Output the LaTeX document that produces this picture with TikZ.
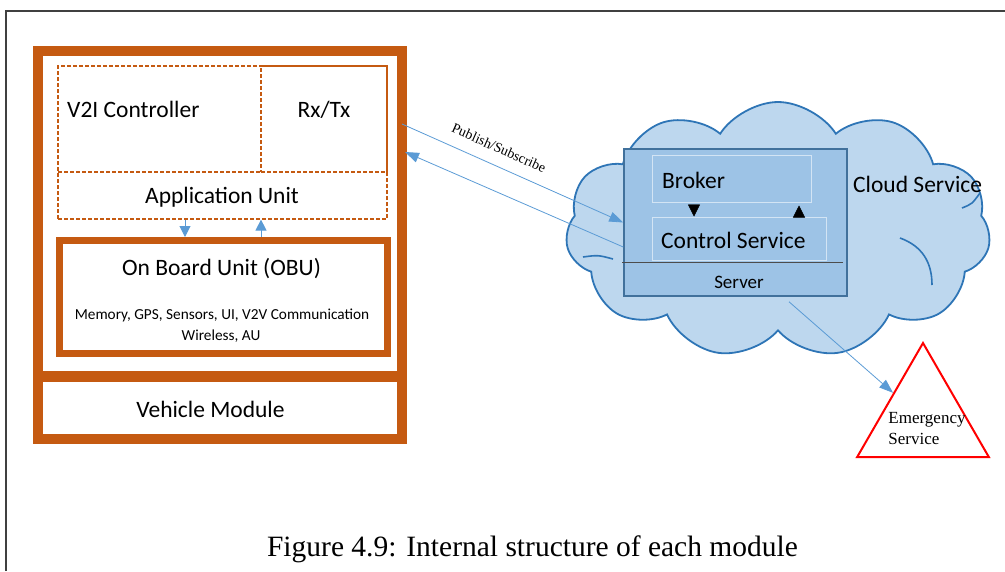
\documentclass[tikz,border=0pt]{standalone}
\usepackage{fontspec}
\setmainfont{Carlito}
\newfontfamily\timesfont{Liberation Serif}
\usetikzlibrary{shapes.symbols,shapes.geometric,arrows.meta}

\definecolor{rust}{HTML}{C55A11}
\definecolor{linkblue}{HTML}{5B9BD5}
\definecolor{cloudfill}{HTML}{BDD7EE}
\definecolor{cloudedge}{HTML}{2E75B6}
\definecolor{serverfill}{HTML}{9DC3E6}
\definecolor{serveredge}{HTML}{41719C}

\tikzset{
  bigtxt/.style={inner sep=0pt, font=\fontsize{23.5}{27}\selectfont},
  midtxt/.style={inner sep=0pt, font=\fontsize{19}{22}\selectfont},
  smalltxt/.style={inner sep=0pt, font=\fontsize{15.3}{17}\selectfont},
  serif/.style={inner sep=0pt, font=\timesfont\fontsize{17}{21}\selectfont},
  unitbox/.style={draw=rust, line width=#1},
  dashbox/.style={draw=rust, line width=1.2pt, dash pattern=on 4pt off 2pt},
  innerbox/.style={draw=white!55!serverfill, line width=1pt},
  puffline/.style={cloudedge, line width=1.6pt},
  flow/.style={linkblue, line width=1pt, -{Triangle[length=11pt,width=11pt]}},
  thinflow/.style={linkblue, line width=0.8pt, -{Triangle[length=14pt,width=10pt]}},
  tip/.style={black, line width=0.4pt, -{Triangle[length=12pt,width=12pt]}},
}

\begin{document}
\begin{tikzpicture}[x=1pt,y=-1pt]
\useasboundingbox (0,0) rectangle (1005,571);
\draw[line width=2pt, black!75] (6,571) -- (6,11) -- (1005,11);

% vehicle side
\node[unitbox=10pt, minimum width=364pt, minimum height=388pt] (vehicle) at (220,245) {};
\draw[rust, line width=11pt] (vehicle.west |- 0,376.5) -- (vehicle.east |- 0,376.5);
\node[dashbox, minimum width=329pt, minimum height=153pt] (appunit) at (222.5,142.5) {};
\draw[dashbox] (58,172) -- (261,172);
\node[dashbox, minimum width=126pt, minimum height=106pt] (rxtx) at (324,119) {};
\node[unitbox=7pt, minimum width=327.5pt, minimum height=113pt] (obu) at (223.25,297) {};

\node[bigtxt, anchor=base west] (v2itxt) at (67,117) {V2I Controller};
\node[bigtxt, anchor=base] (rxtxtxt) at (324,117) {Rx/Tx};
\node[bigtxt, anchor=base] (apptxt) at (222,203) {Application Unit};
\node[bigtxt, anchor=base] (obutxt) at (221.5,275) {On Board Unit (OBU)};
\node[smalltxt, anchor=base] (obudetail) at (222,319) {Memory, GPS, Sensors, UI, V2V Communication};
\node[smalltxt, anchor=base] (obuwire) at (221,340) {Wireless, AU};
\node[bigtxt, anchor=base] (vehicletxt) at (210.5,417) {Vehicle Module};

\draw[flow] ([xshift=-37.5pt]appunit.south) -- ([xshift=-38.25pt]obu.north);
\draw[flow] ([xshift=37.75pt]obu.north) -- ([xshift=38.5pt]appunit.south);

% cloud side
\node[cloud, cloud puffs=11, cloud puff arc=115, draw=cloudedge, fill=cloudfill,
      line width=1.8pt, minimum width=425pt, minimum height=256pt] (cloud) at (778,230) {};
\draw[puffline] (900,238) .. controls (922,246) and (932,262) .. (932,285);
\draw[puffline] (962,208) .. controls (972,204) .. (980,193);
\draw[puffline] (583,257) .. controls (598,255) .. (613,259);

\node[draw=serveredge, fill=serverfill, line width=1.5pt,
      minimum width=223pt, minimum height=147pt] (server) at (735.5,222.5) {};
\draw[black!70, line width=1pt] (622,262) -- (843,262);
\node[innerbox, minimum width=159pt, minimum height=47pt] (broker) at (731.5,178.5) {};
\node[innerbox, minimum width=174pt, minimum height=43pt] (control) at (739,238.5) {};

\node[bigtxt, anchor=base west] (brokertxt) at (662,188) {Broker};
\node[bigtxt, anchor=base west] (controltxt) at (661,248) {Control Service};
\node[midtxt, anchor=base] (servertxt) at (739,288) {Server};
\node[bigtxt, anchor=base west] (cloudtxt) at (853,192) {Cloud Service};

\draw[tip] ([xshift=-37.5pt,yshift=-2.5pt]broker.south) -- ([xshift=-45pt]control.north);
\draw[tip] ([xshift=60pt,yshift=2pt]control.north) -- ([xshift=67.5pt,yshift=-3pt]broker.south);

% emergency
\node[regular polygon, regular polygon sides=3, draw=red, line width=2pt,
      minimum size=152pt] (emergency) at (923,419) {};
\node[serif, anchor=base, align=left] (emtxt) at (927,444) {Emergency\\Service};

% links
\coordinate (pubstart) at (402,124);
\coordinate (subend) at (405,152);
\draw[thinflow] (pubstart) -- (server.west);
\draw[thinflow] ([yshift=-24.5pt]server.west) -- (subend);
\node[serif, font=\timesfont\fontsize{14}{16}\selectfont, rotate=-24] (pubtxt) at (499,148) {Publish/Subscribe};
\draw[thinflow] ([xshift=53.5pt,yshift=-5pt]server.south) -- (emergency);

% caption
\node[inner sep=0pt, font=\timesfont\fontsize{29.5}{34}\selectfont, anchor=base] (caption) at (532.5,556) {Figure 4.9: Internal structure of each module};
\end{tikzpicture}
\end{document}
